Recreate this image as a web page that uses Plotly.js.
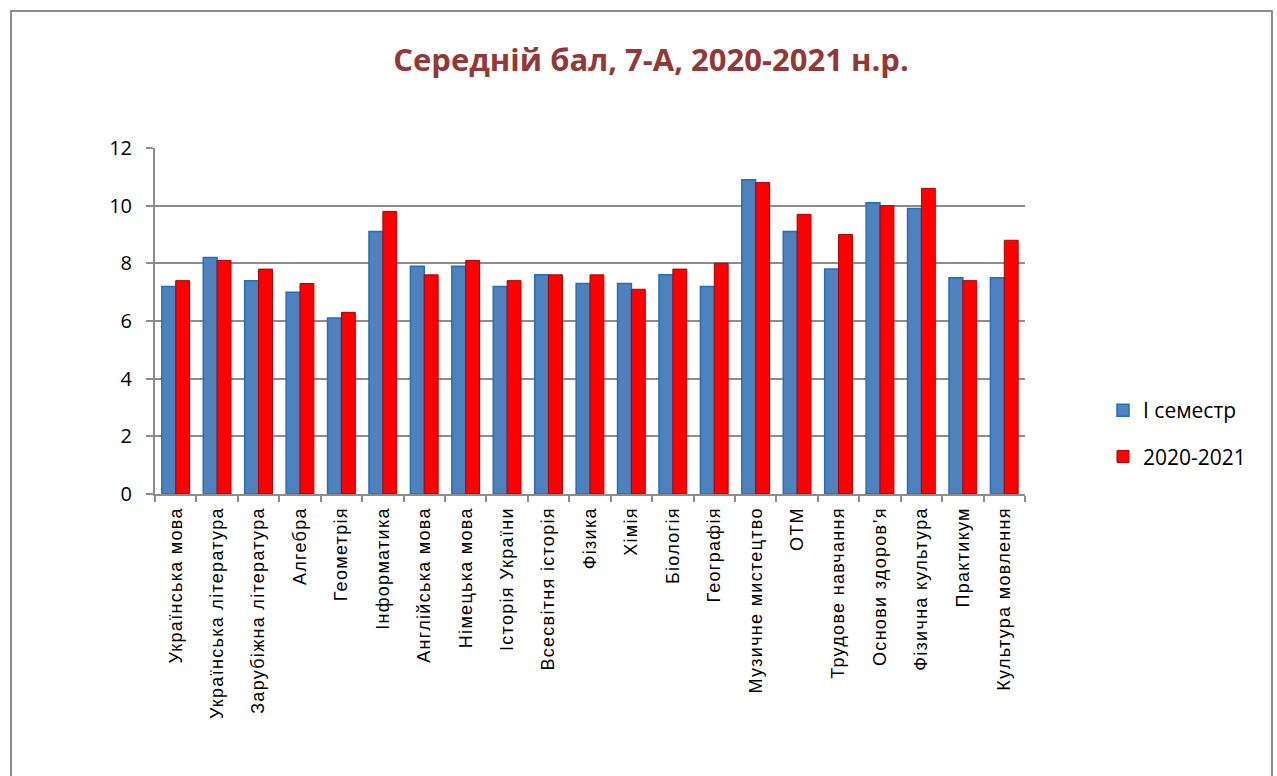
<!DOCTYPE html>
<html><head><meta charset="utf-8">
<script src="https://cdn.plot.ly/plotly-3.0.1.min.js"></script>
<style>
body{margin:0;background:#fff;}
#frame{position:absolute;left:10px;top:10px;width:1263px;height:800px;border:2px solid #8c8c8c;box-sizing:border-box;}
#chart{position:absolute;left:0;top:0;width:1277px;height:776px;}
#chart .xtick text{letter-spacing:1.3px;}
</style></head>
<body>
<div id="frame"></div>
<div id="chart"></div>
<script>
const categories = ["Українська мова","Українська література","Зарубіжна література","Алгебра","Геометрія","Інформатика","Англійська мова","Німецька мова","Історія України","Всесвітня історія","Фізика","Хімія","Біологія","Географія","Музичне мистецтво","ОТМ","Трудове навчання","Основи здоров’я","Фізична культура","Практикум","Культура мовлення"];
const semester1 = [7.2,8.2,7.4,7.0,6.1,9.1,7.9,7.9,7.2,7.6,7.3,7.3,7.6,7.2,10.9,9.1,7.8,10.1,9.9,7.5,7.5];
const year2020_2021 = [7.4,8.1,7.8,7.3,6.3,9.8,7.6,8.1,7.4,7.6,7.6,7.1,7.8,8.0,10.8,9.7,9.0,10.0,10.6,7.4,8.8];
const seriesNames = ["I семестр","2020-2021"];
const yTicks = [0,2,4,6,8,10,12];

const traces = [
  {type:'bar', name:seriesNames[0], x:categories, y:semester1, legendgroup:'a',
   marker:{color:'#4F81BD', line:{color:'#1F6FC5', width:1.5}}},
  {type:'bar', name:seriesNames[1], x:categories, y:year2020_2021, legendgroup:'b',
   marker:{color:'#FF0000', line:{color:'#B00000', width:1}}}
];
const layout = {
  width:1277, height:776, autosize:false,
  paper_bgcolor:'rgba(0,0,0,0)', plot_bgcolor:'rgba(0,0,0,0)',
  margin:{l:155, r:252, t:148, b:282},
  barmode:'group', bargap:0.33, bargroupgap:0,
  title:{text:'<b>Середній бал, 7-А, 2020-2021 н.р.</b>', xref:'container', x:651/1277, xanchor:'center',
         yref:'container', y:1-60/776, yanchor:'middle',
         font:{family:'Open Sans, Noto Sans, sans-serif', size:31, color:'#953735'}},
  xaxis:{type:'category', tickangle:-90, automargin:false, showgrid:false,
         showline:true, linecolor:'#8c8c8c', linewidth:2,
         ticks:'outside', tickson:'boundaries', ticklen:6, tickcolor:'#8c8c8c', tickwidth:2,
         ticklabelstandoff:4,
         tickfont:{family:'Liberation Sans, Arial, sans-serif', size:18, color:'#000'}},
  yaxis:{range:[0,12], tickvals:yTicks, automargin:false,
         showgrid:true, gridcolor:'#8c8c8c', gridwidth:2,
         showline:true, linecolor:'#8c8c8c', linewidth:2, zeroline:false,
         ticks:'outside', ticklen:7, tickcolor:'#8c8c8c', tickwidth:2,
         ticklabelstandoff:10,
         tickfont:{family:'Open Sans, Liberation Sans, sans-serif', size:20, color:'#000'}},
  legend:{x:(1103-155)/870, xanchor:'left', y:(494-390)/346, yanchor:'top',
          tracegroupgap:16, bgcolor:'rgba(0,0,0,0)',
          font:{family:'Open Sans, Liberation Sans, sans-serif', size:21, color:'#000'}},
  showlegend:true
};
Plotly.newPlot('chart', traces, layout, {displayModeBar:false, staticPlot:true});
</script>
</body></html>
